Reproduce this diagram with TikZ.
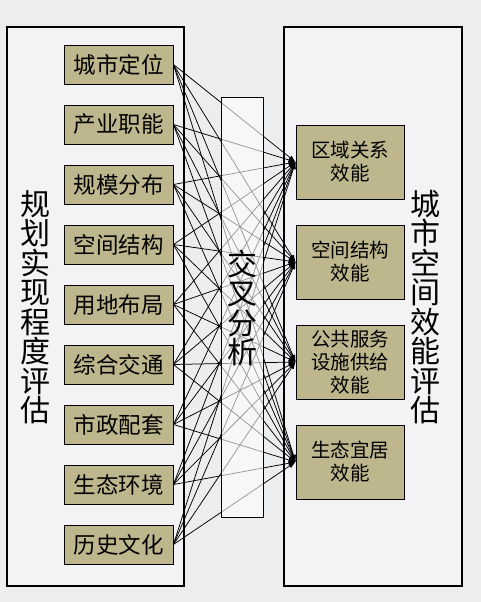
\documentclass[tikz,border=0pt]{standalone}
\usepackage{fontspec}
\setmainfont{Noto Sans CJK SC}
\usetikzlibrary{arrows.meta}
\definecolor{bgray}{RGB}{236,237,239}
\definecolor{pane}{RGB}{243,243,245}
\definecolor{khaki}{RGB}{190,183,142}
\tikzset{
  outerbox/.style={draw=black, line width=1.1pt, fill=pane},
  itembox/.style={draw=black, line width=0.9pt, fill=khaki, inner sep=0pt},
  leftitem/.style={itembox, minimum width=109pt, minimum height=39pt, font=\fontsize{22.5}{24}\selectfont},
  rightitem/.style={itembox, minimum width=108pt, minimum height=74pt, align=center, font=\fontsize{19.5}{23}\selectfont},
  bigtext/.style={align=center, font=\fontsize{30}{29.5}\selectfont},
  link/.style={line width=0.75pt, -{Latex[length=7pt,width=5pt]}}
}
\begin{document}
\begin{tikzpicture}[x=1pt,y=-1pt]
\useasboundingbox (0,0) rectangle (481,602);
\fill[bgray] (0,0) rectangle (481,602);
\draw[outerbox] (7,27) rectangle (184,586);
\draw[outerbox] (284,27) rectangle (462,586);
\foreach \lab [count=\i] in {城市定位,产业职能,规模分布,空间结构,用地布局,综合交通,市政配套,生态环境,历史文化}
  \node[leftitem] (l\i) at (118.5,{4.5+60*\i}) {\lab};
\foreach \lab [count=\j] in {区域关系\\效能,空间结构\\效能,公共服务\\设施供给\\效能,生态宜居\\效能}
  \node[rightitem] (r\j) at (350,{62+100*\j}) {\lab};
\foreach \i in {1,...,9}
  \foreach \j in {1,...,4}
    \draw[link] (l\i.east) -- (r\j.west);
\draw[line width=0.9pt, fill=white, fill opacity=0.6] (221,97) rectangle (263,517);
\node[bigtext] (mid) at (242,308) {交\\叉\\分\\析};
\node[bigtext] (ltitle) at (35,307) {规\\划\\实\\现\\程\\度\\评\\估};
\node[bigtext] (rtitle) at (425,307) {城\\市\\空\\间\\效\\能\\评\\估};
\end{tikzpicture}
\end{document}
